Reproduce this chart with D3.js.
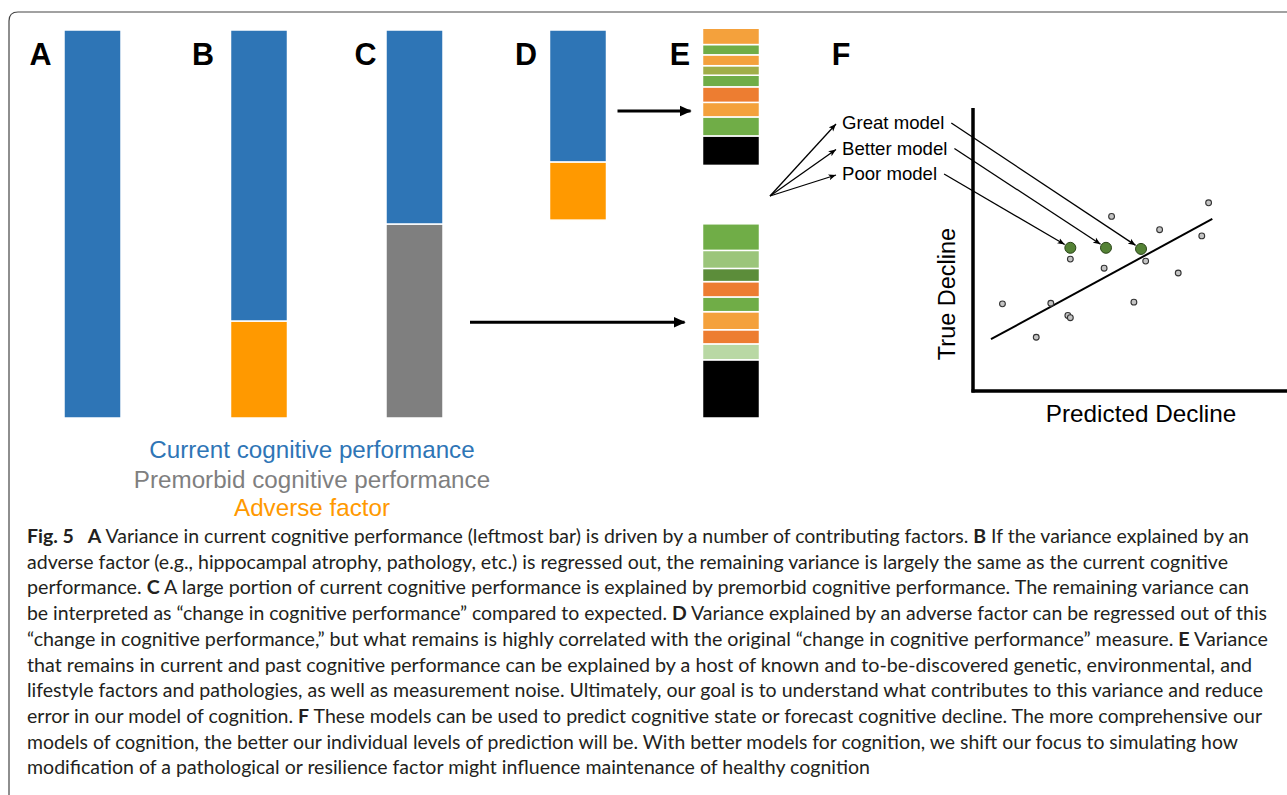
<!DOCTYPE html>
<html><head><meta charset="utf-8">
<script src="https://cdn.jsdelivr.net/npm/d3@7"></script>
<style>html,body{margin:0;padding:0;background:#fff;overflow:hidden}</style>
</head><body><svg id="chart" width="1287" height="795"></svg>
<script>
// ---------- DATA ----------
const barNames = ["A", "B", "C", "D"];
const barBase = [0, 0, 0, 51];
const adverseVals = [0, 25, 0, 15];
const premorbidVals = [0, 0, 50, 0];
const currentVals = [100, 75, 50, 34];

const eTopBase = 65.1;
const eTopValues = [4.2, 2.65, 2.8, 2.45, 3.0, 4.0, 3.75, 4.9, 7.6];          // top -> bottom
const eTopKinds = ["lightOrange","green","lightOrange","olive","green","darkOrange","lightOrange","green","noise"];
const eBotBase = 0;
const eBotValues = [6.85, 4.65, 3.4, 3.95, 3.8, 4.65, 3.65, 4.1, 15.0];       // top -> bottom
const eBotKinds = ["green","lightGreen","darkGreen","darkOrange","green","lightOrange","darkOrange","paleGreen","noise"];

const legendLabels = ["Current cognitive performance", "Premorbid cognitive performance", "Adverse factor"];

const predX = [0.95, 2.04, 2.51, 3.06, 3.14, 3.14, 4.23, 4.47, 5.19, 5.57, 6.02, 6.62, 7.38, 7.60];
const trueY = [3.08, 1.90, 3.10, 2.67, 2.59, 4.66, 4.34, 6.17, 3.14, 4.59, 5.70, 4.17, 5.48, 6.65];
const fitX = [0.58, 7.72];
const fitY = [1.83, 6.08];
const modelNames = ["Great model", "Better model", "Poor model"];
const modelPredX = [5.42, 4.29, 3.14];
const modelTrueY = [5.02, 5.06, 5.06];
const xAxisTitle = "Predicted Decline";
const yAxisTitle = "True Decline";

const captionLines = [
  [[1,"Fig. 5\u2002 A"],[0," Variance in current cognitive performance (leftmost bar) is driven by a number of contributing factors. "],[1,"B"],[0," If the variance explained by an"]],
  [[0,"adverse factor (e.g., hippocampal atrophy, pathology, etc.) is regressed out, the remaining variance is largely the same as the current cognitive"]],
  [[0,"performance. "],[1,"C"],[0," A large portion of current cognitive performance is explained by premorbid cognitive performance. The remaining variance can"]],
  [[0,"be interpreted as \u201cchange in cognitive performance\u201d compared to expected. "],[1,"D"],[0," Variance explained by an adverse factor can be regressed out of this"]],
  [[0,"\u201cchange in cognitive performance,\u201d but what remains is highly correlated with the original \u201cchange in cognitive performance\u201d measure. "],[1,"E"],[0," Variance"]],
  [[0,"that remains in current and past cognitive performance can be explained by a host of known and to-be-discovered genetic, environmental, and"]],
  [[0,"lifestyle factors and pathologies, as well as measurement noise. Ultimately, our goal is to understand what contributes to this variance and reduce"]],
  [[0,"error in our model of cognition. "],[1,"F"],[0," These models can be used to predict cognitive state or forecast cognitive decline. The more comprehensive our"]],
  [[0,"models of cognition, the better our individual levels of prediction will be. With better models for cognition, we shift our focus to simulating how"]],
  [[0,"modification of a pathological or resilience factor might influence maintenance of healthy cognition"]]
];

// ---------- STYLE ----------
const colors = {
  current: "#2e75b6", premorbid: "#7f7f7f", adverse: "#ff9900",
  lightOrange: "#f4a13c", green: "#70ad47", olive: "#a0ae48", darkOrange: "#ed7d31",
  lightGreen: "#9bc57a", darkGreen: "#5c8d3a", paleGreen: "#b9d8a4", noise: "#000000"
};
const svg = d3.select("#chart");
const W = 1287;

// frame
svg.append("path")
  .attr("d", "M9,800 L9,21 Q9,12 18,12 L1295,12")
  .attr("fill", "none").attr("stroke", "#444").attr("stroke-width", 1.2);

// ---------- BAR PANELS ----------
const panelNames = ["A","B","C","D","E","F"];
const xBar = d3.scaleOrdinal().domain(["A","B","C","D","E"]).range([92.5, 259, 414.5, 578, 731]);
const letterX = d3.scaleOrdinal().domain(panelNames).range([40.5, 203, 365.5, 526, 680, 841]);
const barW = 57;
const yBar = d3.scaleLinear().domain([0, 100]).range([418, 30]);

const segs = [];
barNames.forEach((n, i) => {
  let v = barBase[i];
  [["adverse", adverseVals[i]], ["premorbid", premorbidVals[i]], ["current", currentVals[i]]].forEach(([k, val]) => {
    if (val > 0) { segs.push({bar: n, y0: v, y1: v + val, color: colors[k]}); v += val; }
  });
});
function pushStack(base, values, kinds) {
  let v = base;
  for (let i = values.length - 1; i >= 0; i--) {
    segs.push({bar: "E", y0: v, y1: v + values[i], color: colors[kinds[i]]});
    v += values[i];
  }
}
pushStack(eTopBase, eTopValues, eTopKinds);
pushStack(eBotBase, eBotValues, eBotKinds);

svg.append("g").selectAll("rect").data(segs).join("rect")
  .attr("x", d => xBar(d.bar) - barW / 2)
  .attr("width", barW)
  .attr("y", d => yBar(d.y1))
  .attr("height", d => yBar(d.y0) - yBar(d.y1))
  .attr("fill", d => d.color)
  .attr("stroke", "#fff").attr("stroke-width", 1.5);

// panel letters
svg.append("g").selectAll("text").data(panelNames).join("text")
  .attr("x", d => letterX(d)).attr("y", 65)
  .attr("text-anchor", "middle")
  .attr("font-family", "Liberation Sans, Arial, sans-serif")
  .attr("font-weight", "bold").attr("font-size", 30.5)
  .text(d => d);

// arrow markers
const defs = svg.append("defs");
defs.append("marker").attr("id", "bigHead").attr("viewBox", "0 -5 10 10")
  .attr("refX", 9).attr("refY", 0).attr("markerWidth", 4).attr("markerHeight", 4)
  .attr("markerUnits", "strokeWidth").attr("orient", "auto")
  .append("path").attr("d", "M0,-4.5L10,0L0,4.5Z").attr("fill", "#000");
defs.append("marker").attr("id", "thinHead").attr("viewBox", "0 -5 10 10")
  .attr("refX", 10).attr("refY", 0).attr("markerWidth", 7.5).attr("markerHeight", 7.5)
  .attr("markerUnits", "userSpaceOnUse").attr("orient", "auto")
  .append("path").attr("d", "M0,-4L10,0L0,4L2.5,0Z").attr("fill", "#000");

const bigArrows = [
  {from: "D", level: 79.1, x0: xBar("D") + barW / 2 + 11, x1: xBar("E") - barW / 2 - 12},
  {from: "C", level: 24.7, x0: xBar("C") + barW / 2 + 27, x1: xBar("E") - barW / 2 - 18}
];
svg.append("g").selectAll("line").data(bigArrows).join("line")
  .attr("x1", d => d.x0).attr("x2", d => d.x1)
  .attr("y1", d => yBar(d.level)).attr("y2", d => yBar(d.level))
  .attr("stroke", "#000").attr("stroke-width", 3)
  .attr("marker-end", "url(#bigHead)");

// legend
const legendColors = [colors.current, colors.premorbid, colors.adverse];
const legendY = [457.5, 487.5, 516];
svg.append("g").selectAll("text").data(legendLabels).join("text")
  .attr("x", 312).attr("y", (d, i) => legendY[i])
  .attr("text-anchor", "middle")
  .attr("font-family", "Liberation Sans, Arial, sans-serif")
  .attr("font-size", 24.2)
  .attr("fill", (d, i) => legendColors[i])
  .text(d => d);

// ---------- PANEL F ----------
const xF = d3.scaleLinear().domain([0, 10]).range([973, 1283]);
const yF = d3.scaleLinear().domain([0, 10]).range([391, 108]);
const gF = svg.append("g");

// axes
gF.append("line").attr("x1", xF(0)).attr("x2", xF(0)).attr("y1", yF(10)).attr("y2", yF(0) + 1.5)
  .attr("stroke", "#000").attr("stroke-width", 3.5);
gF.append("line").attr("x1", xF(0) - 1.5).attr("x2", W + 5).attr("y1", yF(0)).attr("y2", yF(0))
  .attr("stroke", "#000").attr("stroke-width", 3.5);
gF.append("text").attr("x", 1141).attr("y", 421.5).attr("text-anchor", "middle")
  .attr("font-family", "Liberation Sans, Arial, sans-serif").attr("font-size", 24.3).text(xAxisTitle);
gF.append("text").attr("transform", "translate(955,294) rotate(-90)").attr("text-anchor", "middle")
  .attr("font-family", "Liberation Sans, Arial, sans-serif").attr("font-size", 23.5).text(yAxisTitle);

// regression line
gF.append("line").attr("x1", xF(fitX[0])).attr("y1", yF(fitY[0])).attr("x2", xF(fitX[1])).attr("y2", yF(fitY[1]))
  .attr("stroke", "#000").attr("stroke-width", 2);

// points
gF.append("g").selectAll("circle").data(predX).join("circle")
  .attr("cx", d => xF(d)).attr("cy", (d, i) => yF(trueY[i])).attr("r", 2.9)
  .attr("fill", "#c4c4c4").attr("stroke", "#333").attr("stroke-width", 1.1);

// model labels & arrows
const labelX = 842, labelBase = [129, 154.5, 180];
const fanOrigin = [770, 196];
const labels = gF.append("g").selectAll("text").data(modelNames).join("text")
  .attr("x", labelX).attr("y", (d, i) => labelBase[i])
  .attr("font-family", "Liberation Sans, Arial, sans-serif").attr("font-size", 18.6)
  .text(d => d);
const labelW = labels.nodes().map(n => n.getComputedTextLength());

gF.append("g").selectAll("line").data(modelNames).join("line")
  .attr("x1", fanOrigin[0]).attr("y1", fanOrigin[1])
  .attr("x2", labelX - 6).attr("y2", (d, i) => labelBase[i] - 5)
  .attr("stroke", "#000").attr("stroke-width", 1.3).attr("marker-end", "url(#thinHead)");

const conn = modelNames.map((d, i) => {
  const x0 = labelX + labelW[i] + 7, y0 = labelBase[i] - 6;
  const px = xF(modelPredX[i]), py = yF(modelTrueY[i]);
  const dx = px - x0, dy = py - y0, L = Math.hypot(dx, dy), r = 6.5;
  return {x0, y0, x1: px - dx / L * r, y1: py - dy / L * r};
});
gF.append("g").selectAll("line").data(conn).join("line")
  .attr("x1", d => d.x0).attr("y1", d => d.y0).attr("x2", d => d.x1).attr("y2", d => d.y1)
  .attr("stroke", "#000").attr("stroke-width", 1.3).attr("marker-end", "url(#thinHead)");

gF.append("g").selectAll("circle").data(modelPredX).join("circle")
  .attr("cx", d => xF(d)).attr("cy", (d, i) => yF(modelTrueY[i])).attr("r", 5.5)
  .attr("fill", "#548235").attr("stroke", "#2a4418").attr("stroke-width", 1);

// ---------- CAPTION ----------
const capStart = 27;
const capEnds = [1249, 1228, 1249, 1267, 1268, 1252, 1263, 1262, 1238, 870];
const capG = svg.append("g").attr("font-family", "Lato, 'Open Sans', sans-serif").attr("font-size", 18.5).attr("fill", "#231f20");
captionLines.forEach((parts, i) => {
  const t = capG.append("text").attr("x", capStart).attr("y", 543 + i * 25.7)
    .attr("textLength", capEnds[i] - capStart).attr("lengthAdjust", "spacingAndGlyphs");
  parts.forEach(([b, s]) => t.append("tspan").attr("font-weight", b ? "bold" : "normal").text(s));
});
</script></body></html>
